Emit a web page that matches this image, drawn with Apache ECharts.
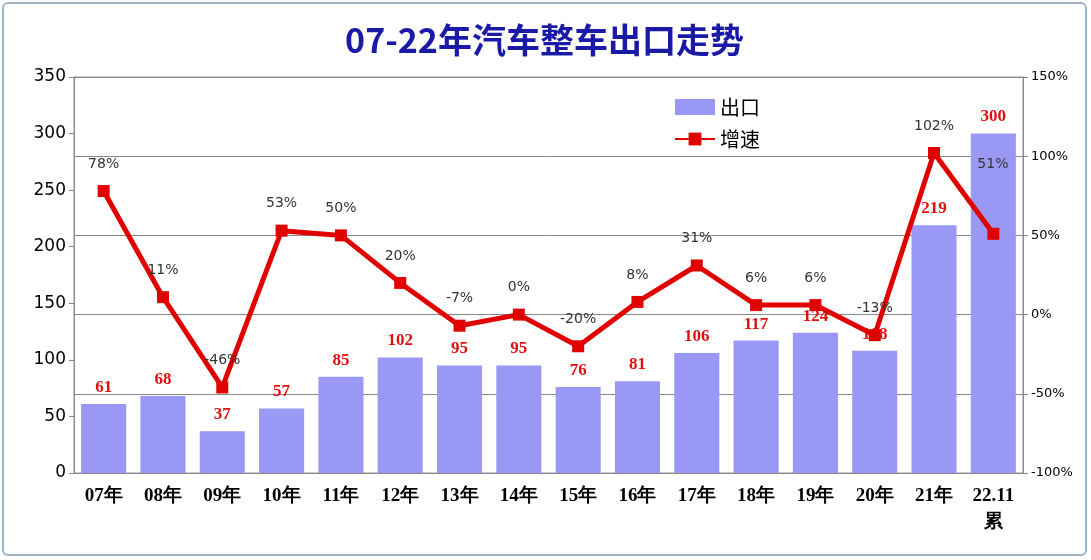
<!DOCTYPE html><html><head><meta charset="utf-8">
<script src="https://cdn.jsdelivr.net/npm/echarts@6/dist/echarts.min.js"></script>
<style>html,body{margin:0;padding:0;background:#fff}
#c{position:absolute;left:2px;top:2px;width:1085px;height:554px;border:2px solid #9fb3c8;border-radius:6px;box-sizing:border-box}</style>
</head><body><div id="c"></div><script>
const categories=['07年','08年','09年','10年','11年','12年','13年','14年','15年','16年','17年','18年','19年','20年','21年','22.11\n累'];
const exportsVals=[61,68,37,57,85,102,95,95,76,81,106,117,124,108,219,300];
const growthVals=[78,11,-46,53,50,20,-7,0,-20,8,31,6,6,-13,102,51];
const chart=echarts.init(document.getElementById('c'));
chart.setOption({
 animation:false,
 title:{text:'07-22年汽车整车出口走势',left:'center',top:14,textStyle:{color:'#1a1aa6',fontSize:34,fontWeight:'bold',fontFamily:'Noto Sans CJK SC'}},
 legend:{orient:'vertical',left:665,top:88,itemGap:12,textStyle:{fontSize:20,color:'#000',fontFamily:'Noto Sans CJK SC'},
  data:[{name:'出口',icon:'rect',itemStyle:{color:'#9999f5'}},{name:'增速'}],itemWidth:40,itemHeight:16},
 grid:{left:70,right:62,top:73,bottom:81,show:true,borderColor:'#999',borderWidth:1},
 xAxis:{type:'category',data:categories,axisTick:{show:false},axisLine:{lineStyle:{color:'#888'}},
  axisLabel:{interval:0,color:'#000',fontSize:19,fontWeight:'bold',fontFamily:'Liberation Serif',lineHeight:26,margin:10}},
 yAxis:[{type:'value',min:0,max:350,interval:50,splitLine:{show:false},axisLine:{show:true,lineStyle:{color:'#888'}},axisTick:{show:true},
   axisLabel:{color:'#000',fontSize:17,fontFamily:'DejaVu Sans'}},
  {type:'value',min:-100,max:150,interval:50,splitLine:{show:true,lineStyle:{color:'#888'}},axisLine:{show:true,lineStyle:{color:'#888'}},axisTick:{show:true},
   axisLabel:{color:'#000',fontSize:13,formatter:'{value}%',fontFamily:'DejaVu Sans'}}],
 series:[{name:'出口',type:'bar',data:exportsVals,barWidth:'76%',itemStyle:{color:'#9999f5'},
   label:{show:true,position:'top',distance:8,color:'#e01010',fontSize:17,fontWeight:'bold',fontFamily:'Liberation Serif'}},
  {name:'增速',type:'line',yAxisIndex:1,data:growthVals.map((v,i)=>i===growthVals.length-1?{value:v,label:{position:[-10,-70]}}:v),
   lineStyle:{color:'#e00000',width:5},itemStyle:{color:'#e00000'},symbol:'rect',symbolSize:12,
   label:{show:true,position:'top',distance:14,color:'#333',fontSize:14,formatter:'{c}%',fontFamily:'DejaVu Sans'}}]
});
</script></body></html>
